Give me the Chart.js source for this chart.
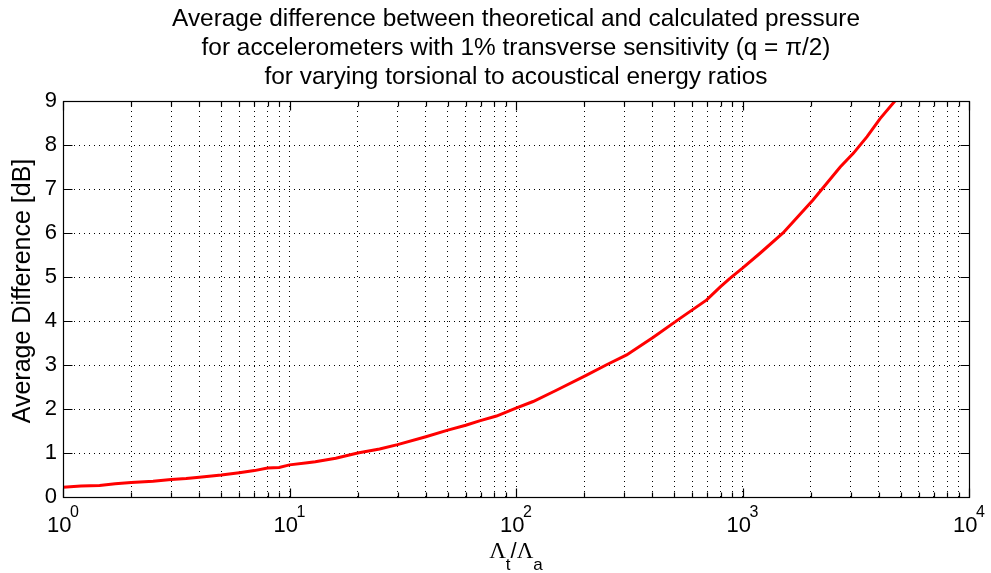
<!DOCTYPE html>
<html>
<head>
<meta charset="utf-8">
<script src="https://cdn.jsdelivr.net/npm/chart.js@4.4.1/dist/chart.umd.min.js"></script>
<style>
  html, body { margin: 0; padding: 0; background: #fff; }
  #wrap { width: 991px; height: 573px; position: relative; }
</style>
</head>
<body>
<div id="wrap"><canvas id="c" width="991" height="573"></canvas></div>
<script>
// ---- data ----
const titleLines = [
  'Average difference between theoretical and calculated pressure',
  'for accelerometers with 1% transverse sensitivity (q = \u03c0/2)',
  'for varying torsional to acoustical energy ratios'
];
const yAxisTitle = 'Average Difference [dB]';
const energyRatio = [1, 1.2, 1.45, 1.7, 2, 2.5, 3, 3.5, 4, 5, 6, 7, 8, 9, 10, 12, 13, 16, 20, 25, 30, 40, 50, 60, 69, 82, 100, 119, 150, 205, 250, 308, 404, 530, 695, 800, 880, 1000, 1195, 1510, 2048, 2700, 3085, 3548, 4050, 4710];
const avgDifference = [0.22, 0.25, 0.26, 0.30, 0.33, 0.36, 0.40, 0.42, 0.45, 0.50, 0.55, 0.60, 0.66, 0.67, 0.73, 0.78, 0.80, 0.88, 1.00, 1.09, 1.19, 1.37, 1.52, 1.63, 1.73, 1.84, 2.02, 2.17, 2.42, 2.77, 3.00, 3.23, 3.63, 4.06, 4.48, 4.78, 4.97, 5.20, 5.54, 6.00, 6.75, 7.50, 7.81, 8.19, 8.60, 9.00];
const xDecades = [0, 1, 2, 3, 4];           // labels 10^0 ... 10^4
const xMinorMultipliers = [2, 3, 4, 5, 6, 7, 8, 9];
const yTicks = [0, 1, 2, 3, 4, 5, 6, 7, 8, 9];

const FONT = '"Liberation Sans", Arial, Helvetica, sans-serif';
const SERIF = '"Liberation Serif", "Times New Roman", serif';

// build log tick list from the decade arrays
const xTickValues = [];
xDecades.forEach((d, i) => {
  const b = Math.pow(10, d);
  xTickValues.push(b);
  if (i < xDecades.length - 1) xMinorMultipliers.forEach(m => xTickValues.push(m * b));
});

const boxPlugin = {
  id: 'matlabBox',
  afterDraw(chart) {
    const ctx = chart.ctx;
    const a = chart.chartArea;
    const xs = chart.scales.x, ys = chart.scales.y;
    const cx = (a.left + a.right) / 2;
    const cy = (a.top + a.bottom) / 2;
    ctx.save();
    ctx.strokeStyle = '#000';
    ctx.lineWidth = 1.2;
    ctx.setLineDash([]);
    const L = Math.round(a.left) + 0.5, R = Math.round(a.right) + 0.5;
    const T = Math.round(a.top) + 0.5, B = Math.round(a.bottom) + 0.5;
    ctx.strokeRect(L, T, R - L, B - T);
    ctx.beginPath();
    xTickValues.forEach(v => {
      const px = Math.round(xs.getPixelForValue(v)) + 0.5;
      const major = xDecades.some(d => Math.abs(Math.pow(10, d) - v) < 1e-9);
      const len = major ? 9 : 5;
      ctx.moveTo(px, B); ctx.lineTo(px, B - len);
      ctx.moveTo(px, T); ctx.lineTo(px, T + len);
    });
    yTicks.forEach(v => {
      const py = Math.round(ys.getPixelForValue(v)) + 0.5;
      ctx.moveTo(L, py); ctx.lineTo(L + 9, py);
      ctx.moveTo(R, py); ctx.lineTo(R - 9, py);
    });
    ctx.stroke();

    ctx.fillStyle = '#000';
    ctx.textBaseline = 'alphabetic';

    // title, centred over the plot area
    ctx.textAlign = 'center';
    ctx.font = '24.4px ' + FONT;
    const titleBase = [26, 55, 84];
    titleLines.forEach((t, i) => ctx.fillText(t, cx, titleBase[i]));

    // y axis title
    ctx.save();
    ctx.translate(23, cy - 8);
    ctx.rotate(-Math.PI / 2);
    ctx.textAlign = 'center';
    ctx.textBaseline = 'middle';
    ctx.font = '25px ' + FONT;
    ctx.fillText(yAxisTitle, 0, 0);
    ctx.restore();

    // x tick labels 10^n
    ctx.textAlign = 'left';
    xDecades.forEach(d => {
      const px = xs.getPixelForValue(Math.pow(10, d));
      ctx.font = '22px ' + FONT;
      const wb = ctx.measureText('10').width - 1.5;
      ctx.font = '16px ' + FONT;
      const we = ctx.measureText(String(d)).width;
      const x0 = px - (wb + we) / 2;
      ctx.font = '22px ' + FONT;
      ctx.fillText('10', x0, 532);
      ctx.font = '16px ' + FONT;
      ctx.fillText(String(d), x0 + wb, 517);
    });

    // x axis title  Λt/Λa
    const parts = [
      {t: '\u039b', f: '23px ' + SERIF, dy: 0},
      {t: 't', f: '17px ' + FONT, dy: 12},
      {t: '/', f: '22px ' + FONT, dy: 0},
      {t: '\u039b', f: '23px ' + SERIF, dy: 0},
      {t: 'a', f: '17px ' + FONT, dy: 12}
    ];
    let total = 0;
    parts.forEach(p => { ctx.font = p.f; p.w = ctx.measureText(p.t).width; total += p.w; });
    let x = cx - total / 2;
    const base = 558;
    parts.forEach(p => {
      ctx.font = p.f;
      ctx.fillText(p.t, x, base + p.dy);
      x += p.w;
    });
    ctx.restore();
  }
};

new Chart(document.getElementById('c'), {
  type: 'line',
  data: {
    datasets: [{
      data: energyRatio.map((v, i) => ({x: v, y: avgDifference[i]})),
      borderColor: '#ff0000',
      borderWidth: 3,
      pointRadius: 0,
      tension: 0,
      fill: false
    }]
  },
  options: {
    responsive: false,
    animation: false,
    layout: { padding: { left: 0, right: 22, top: 101, bottom: 0 } },
    plugins: {
      legend: { display: false },
      tooltip: { enabled: false },
      title: { display: false }
    },
    scales: {
      x: {
        type: 'logarithmic',
        min: 1,
        max: 10000,
        afterBuildTicks: (s) => { s.ticks = xTickValues.map(v => ({value: v})); },
        afterFit: (s) => { s.height = 76; },
        ticks: { display: false },
        grid: { color: '#000', lineWidth: 1, drawTicks: false },
        border: { display: true, color: '#000', dash: [1, 4] }
      },
      y: {
        min: 0,
        max: 9,
        afterBuildTicks: (s) => { s.ticks = yTicks.map(v => ({value: v})); },
        afterFit: (s) => { s.width = 63; },
        ticks: { color: '#000', padding: 6, font: { family: FONT, size: 22 } },
        grid: { color: '#000', lineWidth: 1, drawTicks: false },
        border: { display: true, color: '#000', dash: [1, 4] },
        title: { display: false }
      }
    }
  },
  plugins: [boxPlugin]
});
</script>
</body>
</html>
